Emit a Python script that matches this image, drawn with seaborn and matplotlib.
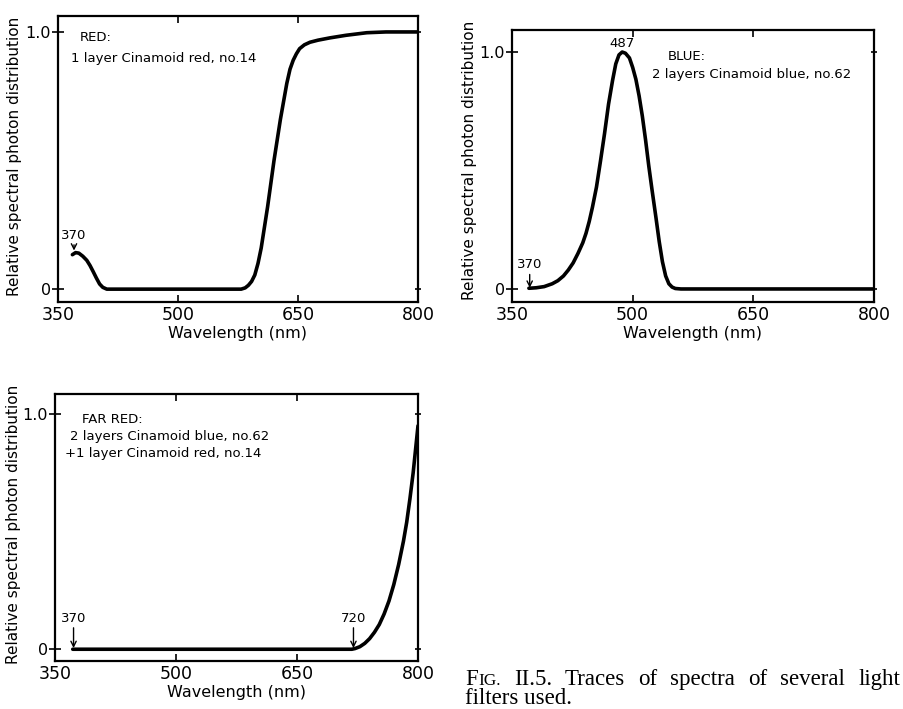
import matplotlib
matplotlib.use("Agg")
import matplotlib.pyplot as plt
import seaborn as sns
import pandas as pd

sns.set_style("ticks")
plt.rcParams['font.family'] = ['DejaVu Sans']
plt.rcParams['text.color'] = 'black'
plt.rcParams['axes.labelcolor'] = 'black'
plt.rcParams['xtick.color'] = 'black'
plt.rcParams['ytick.color'] = 'black'

# ---- data ----
red_wl = [368, 372, 376, 381, 386, 390, 394, 398, 402, 406, 411, 430, 480, 530, 579,
          584, 588, 592, 596, 600, 604, 608, 612, 616, 620, 624, 628, 632, 636, 640,
          644, 648, 652, 658, 665, 675, 690, 710, 736, 760, 800]
red_val = [0.134, 0.142, 0.140, 0.128, 0.112, 0.092, 0.068, 0.043, 0.020, 0.007, 0.0, 0.0,
           0.0, 0.0, 0.0, 0.005, 0.015, 0.030, 0.055, 0.10, 0.16, 0.24, 0.32, 0.41, 0.50,
           0.58, 0.66, 0.73, 0.80, 0.855, 0.89, 0.915, 0.935, 0.950, 0.960, 0.968, 0.977,
           0.987, 0.997, 1.0, 1.0]

blue_wl = [371, 380, 390, 400, 407, 414, 420, 426, 432, 438, 442, 446, 450, 455, 460, 465,
           470, 475, 479, 483, 487, 491, 496, 500, 504, 508, 512, 516, 520, 524, 529,
           533, 537, 541, 545, 549, 553, 560, 600, 700, 800]
blue_val = [0.003, 0.005, 0.010, 0.022, 0.035, 0.055, 0.080, 0.110, 0.150, 0.195, 0.235,
            0.285, 0.345, 0.430, 0.540, 0.655, 0.780, 0.880, 0.950, 0.988, 1.0, 0.995,
            0.975, 0.935, 0.885, 0.815, 0.730, 0.630, 0.520, 0.420, 0.300, 0.200, 0.115,
            0.055, 0.022, 0.008, 0.002, 0.0, 0.0, 0.0, 0.0]

farred_wl = [372, 450, 550, 650, 718, 722, 728, 734, 740, 746, 752, 758, 764, 770, 776,
             782, 786, 790, 794, 797, 800]
farred_val = [0.0, 0.0, 0.0, 0.0, 0.0, 0.003, 0.011, 0.025, 0.045, 0.072, 0.105, 0.150,
              0.205, 0.275, 0.360, 0.460, 0.540, 0.640, 0.750, 0.850, 0.950]

xticks = [350, 500, 650, 800]
yticks = [0, 1.0]
ytick_labels = ["0", "1.0"]

ylabel = "Relative spectral photon distribution"
xlabel = "Wavelength (nm)"
caption_line1 = ["II.5.", "Traces", "of", "spectra", "of", "several", "light"]
caption_line2 = "filters used."

W, H = 904, 709
fig = plt.figure(figsize=(W / 100, H / 100), dpi=100)

def px_axes(l, r, t, b):
    return fig.add_axes([l / W, 1 - b / H, (r - l) / W, (b - t) / H])

ax1 = px_axes(58, 418, 16, 302)
ax2 = px_axes(512, 874, 30, 302)
ax3 = px_axes(55, 418, 394, 661)

panels = [
    (ax1, red_wl, red_val, (-0.05, 1.062), (-0.10, 0.51)),
    (ax2, blue_wl, blue_val, (-0.055, 1.093), (-0.097, 0.52)),
    (ax3, farred_wl, farred_val, (-0.05, 1.085), (-0.094, 0.51)),
]

for ax, wl, val, ylim, lab in panels:
    df = pd.DataFrame({"wl": wl, "val": val})
    sns.lineplot(data=df, x="wl", y="val", ax=ax, color="black", linewidth=2.6,
                 estimator=None, sort=True)
    ax.set_xlim(350, 800)
    ax.set_ylim(*ylim)
    ax.set_xticks(xticks)
    ax.set_xticklabels([str(t) for t in xticks], fontsize=12.5)
    ax.set_yticks(yticks)
    ax.set_yticklabels(ytick_labels, fontsize=11.5)
    ax.set_xlabel(xlabel, fontsize=11.5, labelpad=1)
    ax.set_ylabel(ylabel, fontsize=11)
    ax.yaxis.set_label_coords(*lab)
    for s in ax.spines.values():
        s.set_visible(True)
        s.set_linewidth(1.6)
        s.set_color("black")
    ax.tick_params(axis="x", direction="in", length=5, width=1.2, top=True,
                   pad=3, colors="black")
    ax.tick_params(axis="y", direction="inout", length=8, width=1.2, right=True,
                   pad=1, colors="black")
    for t in ax.yaxis.get_major_ticks():
        t.tick2line.set_markersize(5)
    ax.grid(False)

arrow = dict(arrowstyle="->", color="black", lw=1.0, shrinkA=0, shrinkB=0)

# RED panel annotations
ax1.text(377, 0.977, "RED:", fontsize=9.5, va="center", ha="left")
ax1.text(366, 0.895, "1 layer Cinamoid red, no.14", fontsize=9.5, va="center", ha="left")
ax1.annotate("370", xy=(370, 0.15), xytext=(370, 0.185), fontsize=9.5, ha="center",
             va="bottom", arrowprops=arrow)

# BLUE panel annotations
ax2.text(544, 0.98, "BLUE:", fontsize=9.5, va="center", ha="left")
ax2.text(524, 0.904, "2 layers Cinamoid blue, no.62", fontsize=9.5, va="center", ha="left")
ax2.text(487, 1.01, "487", fontsize=9.5, ha="center", va="bottom")
ax2.annotate("370", xy=(372, 0.005), xytext=(372, 0.075), fontsize=9.5, ha="center",
             va="bottom", arrowprops=arrow)

# FAR RED panel annotations
ax3.text(383, 0.977, "FAR RED:", fontsize=9.5, va="center", ha="left")
ax3.text(368, 0.904, "2 layers Cinamoid blue, no.62", fontsize=9.5, va="center", ha="left")
ax3.text(363, 0.833, "+1 layer Cinamoid red, no.14", fontsize=9.5, va="center", ha="left")
ax3.annotate("370", xy=(373, 0.005), xytext=(373, 0.105), fontsize=9.5, ha="center",
             va="bottom", arrowprops=arrow)
ax3.annotate("720", xy=(720, 0.005), xytext=(720, 0.105), fontsize=9.5, ha="center",
             va="bottom", arrowprops=arrow)

# caption (serif, small caps "FIG.", justified first line)
serif = ["Liberation Serif", "DejaVu Serif"]
cap_fs = 16.5
x_left, x_right = 465, 900
y1 = 1 - 685 / H
y2 = 1 - 704 / H
fig.canvas.draw()
r = fig.canvas.get_renderer()
t1 = fig.text(x_left / W, y1, "F", fontsize=cap_fs, family=serif, va="baseline")
bb = t1.get_window_extent(r)
t2 = fig.text((bb.x1 + 0.5) / W, y1, "IG.", fontsize=cap_fs * 0.75, family=serif,
              va="baseline")
start = t2.get_window_extent(r).x1
words = [fig.text(0, y1, w, fontsize=cap_fs, family=serif, va="baseline")
         for w in caption_line1]
widths = [w.get_window_extent(r).width for w in words]
gap = (x_right - start - sum(widths)) / len(words)
x = start + gap
for w, wd in zip(words, widths):
    w.set_position((x / W, y1))
    x += wd + gap
fig.text(x_left / W, y2, caption_line2, fontsize=cap_fs, family=serif, va="baseline")

fig.savefig("out.png", dpi=100)
